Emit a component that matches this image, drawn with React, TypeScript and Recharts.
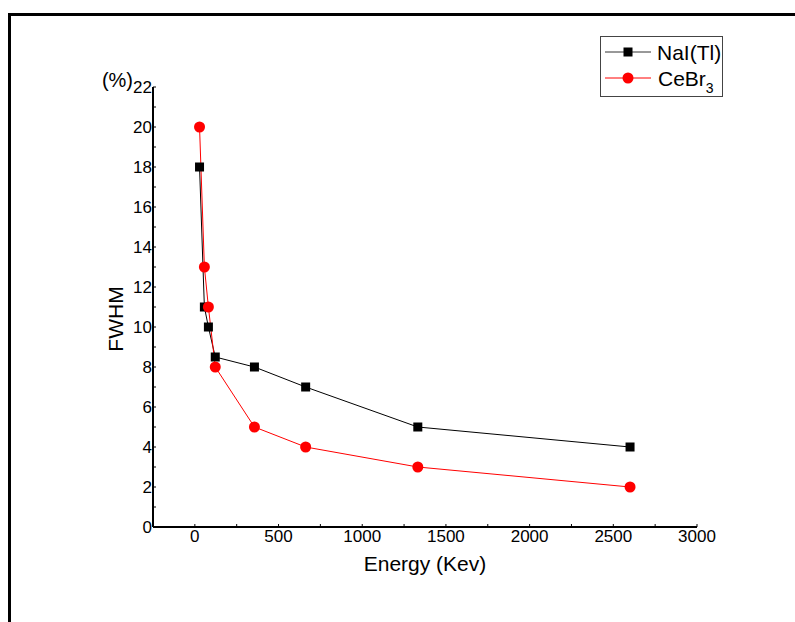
import React from 'react';
import { LineChart, Line, XAxis, YAxis, Legend } from 'recharts';

// ---- data ----
const energyKeV = [28, 57, 81, 122, 356, 662, 1332, 2600];
const naiFwhm = [18, 11, 10, 8.5, 8, 7, 5, 4];
const cebr3Fwhm = [20, 13, 11, 8, 5, 4, 3, 2];

const xTicks = [0, 250, 500, 750, 1000, 1250, 1500, 1750, 2000, 2250, 2500, 2750, 3000];
const xTickLabels = [0, 500, 1000, 1500, 2000, 2500, 3000];
const yTicks = [0, 1, 2, 3, 4, 5, 6, 7, 8, 9, 10, 11, 12, 13, 14, 15, 16, 17, 18, 19, 20, 21, 22];
const yTickLabels = [0, 2, 4, 6, 8, 10, 12, 14, 16, 18, 20, 22];

const seriesNames = ['NaI(Tl)', 'CeBr3'];
const xTitle = 'Energy (Kev)';
const yTitle = 'FWHM';
const yUnit = '(%)';

const data = energyKeV.map((e, i) => ({ energy: e, nai: naiFwhm[i], cebr3: cebr3Fwhm[i] }));

const FONT = '"Liberation Sans", Arial, Helvetica, sans-serif';

const SquareDot = (p: any) => (
  <rect key={`sq-${p.index}`} x={p.cx - 4.5} y={p.cy - 4.5} width={9} height={9} fill="#000" />
);
const CircleDot = (p: any) => (
  <circle key={`ci-${p.index}`} cx={p.cx} cy={p.cy} r={5.5} fill="#ff0000" />
);

const XTitle = (props: any) => {
  const vb = props.viewBox;
  return (
    <text x={vb.x + vb.width / 2} y={vb.y + 44} textAnchor="middle" fontSize={21} fill="#000" fontFamily={FONT}>
      {xTitle}
    </text>
  );
};

const YTitle = (props: any) => {
  const vb = props.viewBox;
  const cx = vb.x + 22.5;
  const cy = vb.y + 232;
  return (
    <g>
      <text x={cx} y={cy} dy="0.355em" transform={`rotate(-90, ${cx}, ${cy})`} textAnchor="middle" fontSize={21} fill="#000" fontFamily={FONT}>
        {yTitle}
      </text>
      <text x={vb.x + 40} y={vb.y} textAnchor="end" fontSize={20} fill="#000" fontFamily={FONT}>
        {yUnit}
      </text>
    </g>
  );
};

const LegendBox = () => (
  <div style={{ width: 123, height: 61, border: '1px solid #444', boxSizing: 'border-box', background: '#fff' }}>
    <svg width={121} height={59} style={{ display: 'block' }}>
      <line x1={4} x2={50} y1={15} y2={15} stroke="#333" strokeWidth={1} />
      <rect x={22.5} y={10.5} width={9} height={9} fill="#000" />
      <text x={56} y={22.5} fontSize={21} fill="#000" fontFamily={FONT}>{seriesNames[0]}</text>
      <line x1={4} x2={50} y1={41} y2={41} stroke="#ff0000" strokeWidth={1} />
      <circle cx={27} cy={41} r={5.5} fill="#ff0000" />
      <text x={57} y={49} fontSize={21} fill="#000" fontFamily={FONT}>
        {seriesNames[1].slice(0, -1)}
        <tspan dy={6.5} fontSize={14}>{seriesNames[1].slice(-1)}</tspan>
      </text>
    </svg>
  </div>
);

export default function App() {
  return (
    <div style={{ position: 'fixed', left: 0, top: 0, width: 795, height: 622, overflow: 'hidden', background: '#fff', fontFamily: FONT }}>
      <div
        style={{
          position: 'absolute',
          left: 8,
          top: 13,
          width: 820,
          height: 700,
          borderLeft: '3px solid #000',
          borderTop: '3px solid #000',
        }}
      />
      <div style={{ position: 'absolute', left: 0, top: 0 }}>
        <LineChart width={795} height={622} data={data} margin={{ top: 87, right: 98, bottom: 35, left: 93 }}>
          <XAxis
            type="number"
            dataKey="energy"
            domain={[-250, 3000]}
            ticks={xTicks}
            interval={0}
            allowDataOverflow
            height={60}
            tickSize={-3}
            tickMargin={6}
            tickFormatter={(v: number) => (xTickLabels.includes(v) ? String(v) : '')}
            tick={{ fontSize: 17, fill: '#000', fontFamily: FONT }}
            axisLine={{ stroke: '#000', strokeWidth: 2 }}
            tickLine={{ stroke: '#000', strokeWidth: 1 }}
            label={<XTitle />}
          />
          <YAxis
            type="number"
            domain={[0, 22]}
            ticks={yTicks}
            interval={0}
            allowDataOverflow
            width={60}
            tickSize={-3}
            tickMargin={4}
            tickFormatter={(v: number) => (yTickLabels.includes(v) ? String(v) : '')}
            tick={{ fontSize: 17, fill: '#000', fontFamily: FONT }}
            axisLine={{ stroke: '#000', strokeWidth: 2 }}
            tickLine={{ stroke: '#000', strokeWidth: 1 }}
            label={<YTitle />}
          />
          <Legend
            layout="vertical"
            align="center"
            verticalAlign="middle"
            wrapperStyle={{ left: 600, top: 36, width: 123, height: 61 }}
            content={() => <LegendBox />}
          />
          <Line
            type="linear"
            dataKey="nai"
            name={seriesNames[0]}
            stroke="#000"
            strokeWidth={1}
            dot={SquareDot}
            activeDot={false}
            isAnimationActive={false}
          />
          <Line
            type="linear"
            dataKey="cebr3"
            name={seriesNames[1]}
            stroke="#ff0000"
            strokeWidth={1}
            dot={CircleDot}
            activeDot={false}
            isAnimationActive={false}
          />
        </LineChart>
      </div>
    </div>
  );
}
